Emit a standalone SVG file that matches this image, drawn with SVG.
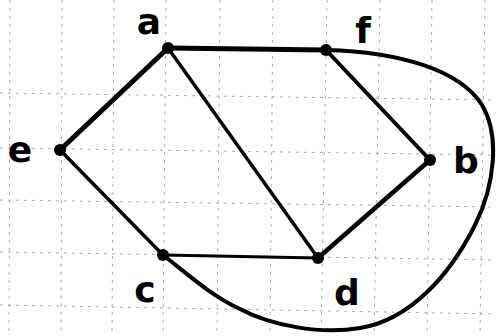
<svg xmlns="http://www.w3.org/2000/svg" width="496" height="336" viewBox="0 0 496 336">
<style>
.grid{stroke:#8a8a8a;stroke-width:1;stroke-dasharray:3 5;fill:none;opacity:0.7}
.e{stroke:#000;fill:none;stroke-linecap:round;stroke-linejoin:round}
.n{fill:#000}
.lbl{font-family:"DejaVu Sans",sans-serif;font-size:36px;font-weight:bold;fill:#000;text-anchor:middle}
</style>
<rect width="496" height="336" fill="#fff"/>
<g id="grid">
<line class="grid" x1="10" y1="0" x2="9" y2="336"/>
<line class="grid" x1="62" y1="0" x2="61" y2="336"/>
<line class="grid" x1="114" y1="0" x2="112" y2="336"/>
<line class="grid" x1="166" y1="0" x2="163" y2="336"/>
<line class="grid" x1="220" y1="0" x2="217" y2="336"/>
<line class="grid" x1="273" y1="0" x2="270" y2="336"/>
<line class="grid" x1="327" y1="0" x2="321" y2="336"/>
<line class="grid" x1="380" y1="0" x2="374" y2="336"/>
<line class="grid" x1="432" y1="0" x2="427" y2="336"/>
<line class="grid" x1="485" y1="0" x2="480" y2="336"/>
<line class="grid" x1="0" y1="93" x2="496" y2="100"/>
<line class="grid" x1="0" y1="148" x2="496" y2="155"/>
<line class="grid" x1="0" y1="200" x2="496" y2="207"/>
<line class="grid" x1="0" y1="252" x2="496" y2="260"/>
<line class="grid" x1="0" y1="305" x2="496" y2="314"/>
</g>
<g id="connectors">
<line class="e" x1="168" y1="48" x2="326" y2="50" stroke-width="5"/>
<line class="e" x1="168" y1="48" x2="60" y2="150" stroke-width="5"/>
<line class="e" x1="168" y1="48" x2="318" y2="258" stroke-width="3.5"/>
<line class="e" x1="326" y1="50" x2="430" y2="160" stroke-width="4"/>
<line class="e" x1="60" y1="150" x2="163" y2="255" stroke-width="3.5"/>
<line class="e" x1="163" y1="255" x2="318" y2="258" stroke-width="3"/>
<line class="e" x1="318" y1="258" x2="430" y2="160" stroke-width="4.5"/>
<path class="e" stroke-width="4" d="M326,50 C400,52 460,70 482,105 C500,135 495,185 475,225 C450,275 410,320 360,328 C320,335 270,325 240,309 C210,295 185,272 163,255"/>
</g>
<g id="node-a"><circle class="n" cx="168" cy="48" r="6"/><text class="lbl" x="149" y="34">a</text></g>
<g id="node-f"><circle class="n" cx="326" cy="50" r="6"/><text class="lbl" x="363" y="43">f</text></g>
<g id="node-e"><circle class="n" cx="60" cy="150" r="6"/><text class="lbl" x="20" y="162">e</text></g>
<g id="node-b"><circle class="n" cx="430" cy="160" r="6"/><text class="lbl" x="466" y="173">b</text></g>
<g id="node-c"><circle class="n" cx="163" cy="255" r="6"/><text class="lbl" x="145" y="302">c</text></g>
<g id="node-d"><circle class="n" cx="318" cy="258" r="6"/><text class="lbl" x="347" y="305">d</text></g>
</svg>
